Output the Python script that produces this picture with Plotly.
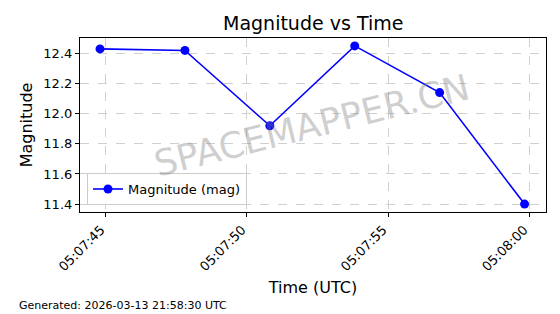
import plotly.graph_objects as go

times = ["2026-03-13 05:07:44.79", "2026-03-13 05:07:47.80", "2026-03-13 05:07:50.81",
         "2026-03-13 05:07:53.82", "2026-03-13 05:07:56.83", "2026-03-13 05:07:59.84"]
magnitudes = [12.43, 12.42, 11.92, 12.45, 12.14, 11.40]
xticks = ["2026-03-13 05:07:45", "2026-03-13 05:07:50", "2026-03-13 05:07:55", "2026-03-13 05:08:00"]
xticklabels = ["05:07:45", "05:07:50", "05:07:55", "05:08:00"]
yticks = [11.4, 11.6, 11.8, 12.0, 12.2, 12.4]

font = "DejaVu Sans"

fig = go.Figure()
fig.add_trace(go.Scatter(
    x=times, y=magnitudes, mode="lines+markers", name="Magnitude (mag)",
    line=dict(color="#0000ff", width=1.6),
    marker=dict(color="#0000ff", size=9),
))

fig.update_layout(
    width=560, height=314,
    margin=dict(l=80, r=14, t=38, b=102),
    paper_bgcolor="white", plot_bgcolor="white",
    font=dict(family=font, color="black"),
    title=dict(text="Magnitude vs Time", x=0.5593, xanchor="center", y=0.925, yanchor="middle",
               font=dict(size=19, family=font)),
    showlegend=True,
    legend=dict(x=0.015, y=0.04, xanchor="left", yanchor="bottom",
                bgcolor="rgba(255,255,255,0.8)", bordercolor="#cccccc", borderwidth=1,
                font=dict(size=13, family=font)),
)

fig.update_xaxes(
    range=["2026-03-13 05:07:44.08", "2026-03-13 05:08:00.60"],
    tickmode="array", tickvals=xticks, ticktext=xticklabels, tickangle=-45,
    tickfont=dict(size=13, family=font), ticklabelshift=-5,
    showgrid=True, gridcolor="#d0d0d0", griddash="dash", gridwidth=1,
    showline=True, linecolor="black", linewidth=1.2, mirror=True,
    ticks="outside", ticklen=4, tickcolor="black",
    title=dict(text="Time (UTC)", font=dict(size=16, family=font), standoff=8),
    zeroline=False,
)
fig.update_yaxes(
    range=[11.3475, 12.5025],
    tickmode="array", tickvals=yticks, tickformat=".1f",
    tickfont=dict(size=13, family=font),
    showgrid=True, gridcolor="#d0d0d0", griddash="dash", gridwidth=1,
    showline=True, linecolor="black", linewidth=1.2, mirror=True,
    ticks="outside", ticklen=4, tickcolor="black",
    title=dict(text="Magnitude", font=dict(size=16, family=font), standoff=6),
    zeroline=False,
)

fig.add_annotation(
    text="SPACEMAPPER.CN", xref="paper", yref="paper", x=0.497, y=0.50,
    showarrow=False, textangle=-14, font=dict(size=36, color="rgba(128,128,128,0.38)", family=font),
)
fig.add_annotation(
    text="Generated: 2026-03-13 21:58:30 UTC", xref="paper", yref="paper",
    x=(17 - 80) / 466, y=(212 - 305) / 174, xanchor="left", yanchor="middle",
    showarrow=False, font=dict(size=11, family=font),
)

fig.write_html("out.html")
